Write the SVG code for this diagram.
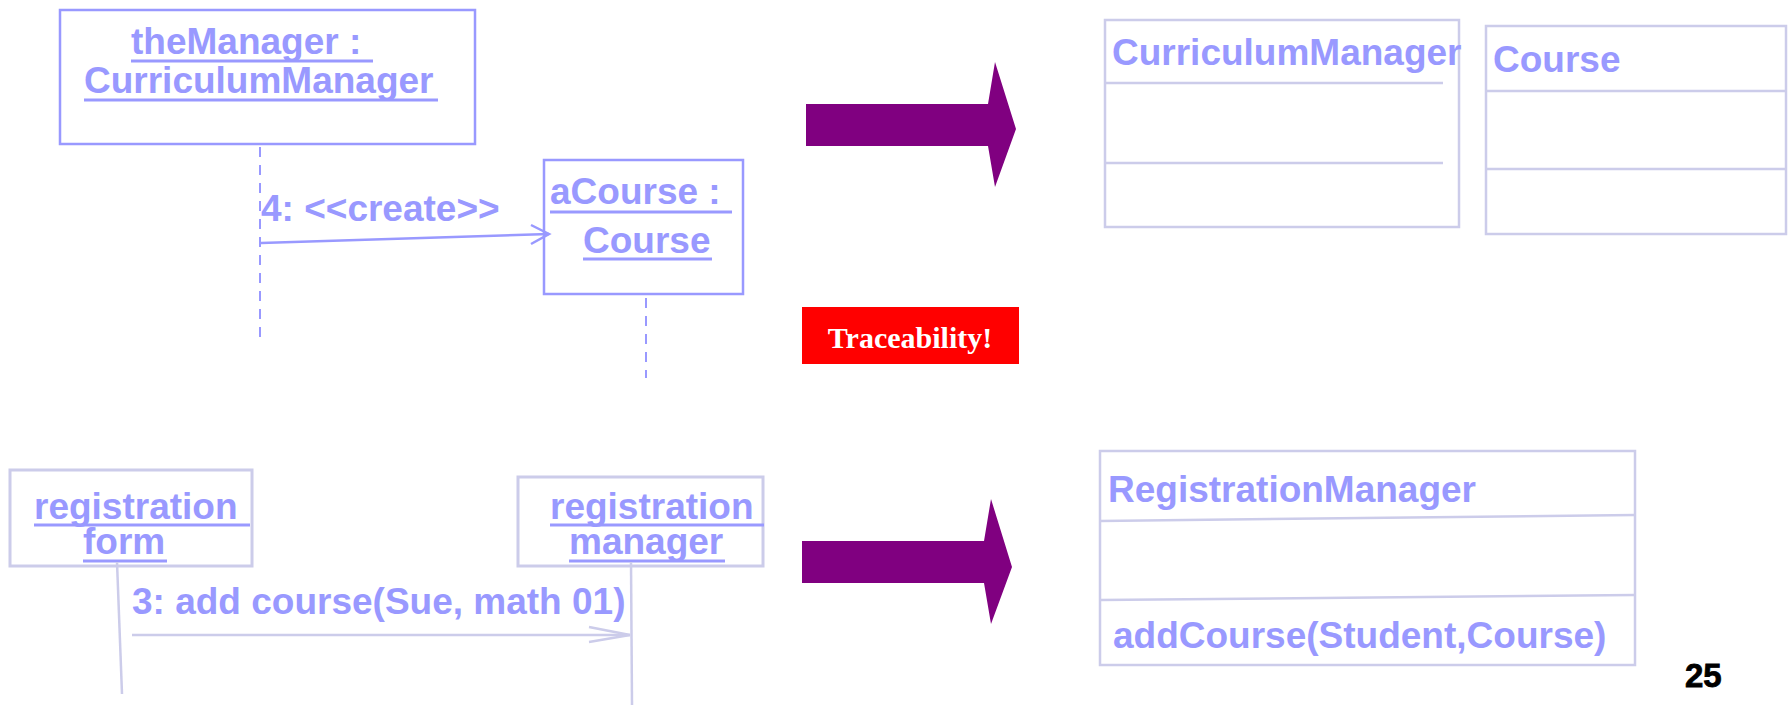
<svg xmlns="http://www.w3.org/2000/svg" width="1788" height="706" viewBox="0 0 1788 706">
<style>
.t{font-family:"Liberation Sans",Arial,sans-serif;font-weight:bold;font-size:37px;fill:#9999ff}
.ul{stroke:#9999ff;stroke-width:3}
.obj{fill:none;stroke:#9999ff;stroke-width:2.5}
.obj2{fill:none;stroke:#ccccea;stroke-width:3}
.cls{fill:none;stroke:#ccccea;stroke-width:2.5}
.life{stroke:#9999ff;stroke-width:2;stroke-dasharray:10 8;fill:none}
.life2{stroke:#ccccea;stroke-width:2.5;fill:none}
.big{fill:#800080}
</style>
<rect width="1788" height="706" fill="#ffffff"/>
<g id="theManager">
<rect class="obj" x="60" y="10" width="415" height="134"/>
<text class="t" x="131" y="54">theManager :</text>
<line class="ul" x1="131" y1="61" x2="373" y2="61"/>
<text class="t" x="84" y="93">CurriculumManager</text>
<line class="ul" x1="84" y1="100" x2="438" y2="100"/>
</g>
<g id="aCourse">
<rect class="obj" x="544" y="160" width="199" height="134"/>
<text class="t" x="550" y="204">aCourse :</text>
<line class="ul" x1="550" y1="212" x2="732" y2="212"/>
<text class="t" x="583" y="253">Course</text>
<line class="ul" x1="583" y1="259" x2="712" y2="259"/>
</g>
<g id="regForm">
<rect class="obj2" x="10" y="470" width="242" height="96"/>
<text class="t" x="34" y="519">registration</text>
<line class="ul" x1="34" y1="525" x2="250" y2="525"/>
<text class="t" x="83" y="554">form</text>
<line class="ul" x1="83" y1="561" x2="167" y2="561"/>
</g>
<g id="regManager">
<rect class="obj2" x="518" y="477" width="245" height="89"/>
<text class="t" x="550" y="519">registration</text>
<line class="ul" x1="550" y1="525" x2="764" y2="525"/>
<text class="t" x="569" y="554">manager</text>
<line class="ul" x1="569" y1="561" x2="725" y2="561"/>
</g>
<g id="CurriculumManagerClass">
<rect class="cls" x="1105" y="20" width="354" height="207"/>
<line class="cls" x1="1105" y1="83" x2="1443" y2="83"/>
<line class="cls" x1="1105" y1="163" x2="1443" y2="163"/>
<text class="t" x="1112" y="65">CurriculumManager</text>
</g>
<g id="CourseClass">
<rect class="cls" x="1486" y="26" width="300" height="208"/>
<line class="cls" x1="1486" y1="91" x2="1786" y2="91"/>
<line class="cls" x1="1486" y1="169" x2="1786" y2="169"/>
<text class="t" x="1493" y="72">Course</text>
</g>
<g id="RegistrationManagerClass">
<rect class="cls" x="1100" y="451" width="535" height="214"/>
<line class="cls" x1="1100" y1="521" x2="1635" y2="515"/>
<line class="cls" x1="1100" y1="600" x2="1635" y2="595"/>
<text class="t" x="1108" y="502">RegistrationManager</text>
<text class="t" x="1113" y="648">addCourse(Student,Course)</text>
</g>
<g id="bigArrow1">
<polygon class="big" points="806,104 988,104 995,62 1016,129 995,187 988,146 806,146"/>
</g>
<g id="bigArrow2">
<polygon class="big" points="802,541 984,541 991,499 1012,567 991,624 984,583 802,583"/>
</g>
<g id="traceability">
<rect x="802" y="307" width="217" height="57" fill="#ff0000"/>
<text x="910" y="348" text-anchor="middle" font-family="'Liberation Serif','Times New Roman',serif" font-weight="bold" font-size="30" fill="#ffffff">Traceability!</text>
</g>
<g id="connectors">
<line class="life" x1="260" y1="147" x2="260" y2="343"/>
<line class="life" x1="646" y1="298" x2="646" y2="378"/>
<line x1="261" y1="243" x2="549" y2="234" stroke="#9999ff" stroke-width="2.5"/>
<polyline points="531,225 549,234 531,244" fill="none" stroke="#9999ff" stroke-width="2.5"/>
<text class="t" x="261" y="221">4: &lt;&lt;create&gt;&gt;</text>
<line class="life2" x1="117" y1="562" x2="122" y2="694"/>
<line class="life2" x1="631" y1="562" x2="632" y2="705"/>
<line class="life2" x1="132" y1="635" x2="630" y2="635"/>
<polyline class="life2" points="589,627 630,635 589,642"/>
<text class="t" x="132" y="614">3: add course(Sue, math 01)</text>
</g>
<text x="1685" y="687" font-family="'Liberation Sans',Arial,sans-serif" font-weight="bold" font-size="33" fill="#000000" stroke="#000" stroke-width="0.8">25</text>
</svg>
